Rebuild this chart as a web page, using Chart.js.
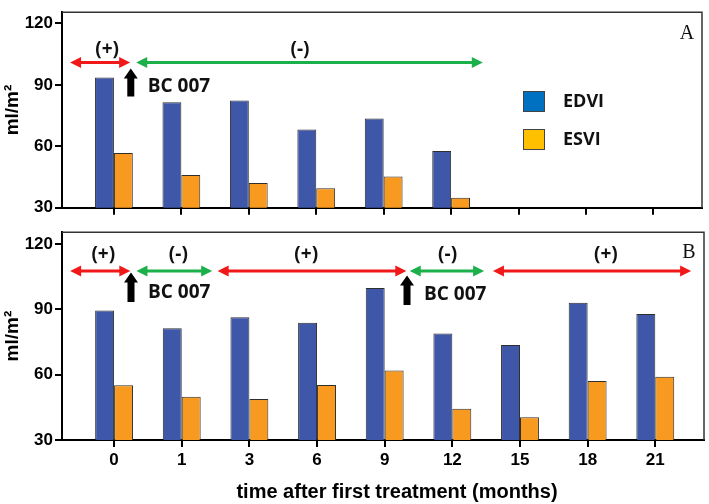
<!DOCTYPE html>
<html>
<head>
<meta charset="utf-8">
<script src="https://cdn.jsdelivr.net/npm/chart.js@4.4.1/dist/chart.umd.min.js"></script>
<style>
  body { margin: 0; background: #fff; width: 709px; height: 504px; overflow: hidden; }
  .panel { position: absolute; left: 0; width: 709px; }
  #panelA { top: 0; height: 220px; }
  #panelB { top: 220px; height: 284px; }
</style>
</head>
<body>
<div class="panel" id="panelA"><canvas id="chartA" width="709" height="220"></canvas></div>
<div class="panel" id="panelB"><canvas id="chartB" width="709" height="284"></canvas></div>
<script>
// months after first treatment
const months = ['0', '1', '3', '6', '9', '12', '15', '18', '21'];

// panel A
const edviA = [93.6, 81.5, 82.4, 68.2, 73.6, 57.7, null, null, null];
const esviA = [56.8, 46.0, 42.1, 39.5, 45.3, 34.9, null, null, null];

// panel B
const edviB = [89.5, 81.3, 86.4, 83.8, 99.8, 78.9, 73.6, 93.0, 87.9];
const esviB = [55.1, 49.8, 48.8, 55.3, 61.9, 44.3, 40.5, 57.1, 59.0];

const yTicks = [30, 60, 90, 120];
const seriesNames = ['EDVI', 'ESVI'];
const barColors = ['#3f57a8', '#f89a1f'];
const legendColors = ['#0070c0', '#ffc000'];

// treatment phases: [from, to, colour, label, labelX]  (x in category index units)
const phasesA = [
  [-0.65, 0.24, '#f01818', '(+)', -0.1],
  [0.33, 5.47, '#1bb04a', '(-)', 2.76]
];
const phasesB = [
  [-0.65, 0.24, '#f01818', '(+)', -0.16],
  [0.33, 1.45, '#1bb04a', '(-)', 0.95],
  [1.53, 4.32, '#f01818', '(+)', 2.84],
  [4.37, 5.47, '#1bb04a', '(-)', 4.93],
  [5.6, 8.53, '#f01818', '(+)', 7.27]
];
// BC 007 doses: [x, arrowTop, arrowBottom, textY]
const dosesA = [[0.25, 98, 84.3, 89.4]];
const dosesB = [[0.25, 106.9, 93.3, 97.8], [4.33, 105.5, 92, 96.9]];

const tickFont = { family: 'Liberation Sans', size: 17, weight: 'bold' };
const noteFont = 'bold 19px "Open Sans"';

function doubleArrow(ctx, x1, x2, y, color) {
  const h = 11, w = 5.5;
  ctx.strokeStyle = color;
  ctx.fillStyle = color;
  ctx.lineWidth = 3;
  ctx.beginPath();
  ctx.moveTo(x1 + h - 1, y);
  ctx.lineTo(x2 - h + 1, y);
  ctx.stroke();
  ctx.beginPath();
  ctx.moveTo(x1, y); ctx.lineTo(x1 + h, y - w); ctx.lineTo(x1 + h, y + w); ctx.closePath();
  ctx.fill();
  ctx.beginPath();
  ctx.moveTo(x2, y); ctx.lineTo(x2 - h, y - w); ctx.lineTo(x2 - h, y + w); ctx.closePath();
  ctx.fill();
}

function upArrow(ctx, x, yTop, yBottom) {
  ctx.fillStyle = '#000';
  ctx.beginPath();
  ctx.moveTo(x, yTop);
  ctx.lineTo(x + 7, yTop + 10);
  ctx.lineTo(x + 3.5, yTop + 10);
  ctx.lineTo(x + 3.5, yBottom);
  ctx.lineTo(x - 3.5, yBottom);
  ctx.lineTo(x - 3.5, yTop + 10);
  ctx.lineTo(x - 7, yTop + 10);
  ctx.closePath();
  ctx.fill();
}

const notes = {
  id: 'notes',
  afterDraw(chart, args, o) {
    const ctx = chart.ctx;
    const xs = chart.scales.x, ys = chart.scales.y;
    const a = chart.chartArea;
    ctx.save();
    // frame top/right
    ctx.strokeStyle = '#333';
    ctx.lineWidth = 1.5;
    ctx.beginPath();
    ctx.moveTo(a.left, a.top);
    ctx.lineTo(a.right, a.top);
    ctx.lineTo(a.right, a.bottom);
    ctx.stroke();

    ctx.font = noteFont;
    ctx.textBaseline = 'middle';
    o.phases.forEach(p => {
      const y = ys.getPixelForValue(o.arrowY);
      doubleArrow(ctx, xs.getPixelForValue(p[0]), xs.getPixelForValue(p[1]), y, p[2]);
      ctx.fillStyle = '#111';
      ctx.textAlign = 'center';
      ctx.fillText(p[3], xs.getPixelForValue(p[4]), ys.getPixelForValue(o.labelY));
    });
    o.doses.forEach(d => {
      const x = xs.getPixelForValue(d[0]);
      upArrow(ctx, x, ys.getPixelForValue(d[1]), ys.getPixelForValue(d[2]));
      ctx.fillStyle = '#111';
      ctx.textAlign = 'left';
      ctx.fillText('BC 007', x + 17, ys.getPixelForValue(d[3]));
    });

    // panel letter
    ctx.font = '20px "Liberation Serif"';
    ctx.textAlign = 'center';
    ctx.fillStyle = '#111';
    ctx.fillText(o.letter, a.right - 15, a.top + o.letterDy);

    if (o.legend) {
      seriesNames.forEach((name, i) => {
        const y = 91 + i * 38;
        ctx.fillStyle = legendColors[i];
        ctx.fillRect(523, y, 22, 21);
        ctx.strokeStyle = '#444';
        ctx.lineWidth = 1;
        ctx.strokeRect(523.5, y + 0.5, 21, 20);
        ctx.fillStyle = '#111';
        ctx.font = 'bold 18px "Open Sans"';
        ctx.textAlign = 'left';
        ctx.fillText(name, 563, y + 11);
      });
    }
    if (o.xTitle) {
      ctx.font = 'bold 20px "Liberation Sans"';
      ctx.textAlign = 'center';
      ctx.fillStyle = '#000';
      ctx.fillText(o.xTitle, 397, 272);
    }
    ctx.restore();
  }
};

function makePanel(id, edvi, esvi, cfg) {
  const pts = arr => arr.map((v, i) => ({ x: i, y: v }));
  return new Chart(document.getElementById(id), {
    type: 'bar',
    data: {
      datasets: [
        { label: seriesNames[0], data: pts(edvi), backgroundColor: barColors[0] },
        { label: seriesNames[1], data: pts(esvi), backgroundColor: barColors[1] }
      ]
    },
    options: {
      responsive: false,
      animation: false,
      devicePixelRatio: 1,
      layout: { padding: cfg.padding },
      datasets: {
        bar: { borderColor: '#2e2e2e', borderWidth: 1, categoryPercentage: 0.56, barPercentage: 1 }
      },
      scales: {
        x: {
          type: 'linear',
          min: -0.77,
          max: 8.72,
          offset: false,
          grid: { offset: false, drawOnChartArea: false, drawTicks: true, tickLength: 7, color: '#000', lineWidth: 2 },
          border: { color: '#000', width: 2 },
          afterBuildTicks: s => { s.ticks = months.map((m, i) => ({ value: i })); },
          afterFit: s => { s.height = cfg.xHeight; },
          ticks: {
            display: cfg.xLabels,
            color: '#000',
            font: tickFont,
            padding: 3,
            maxRotation: 0,
            autoSkip: false,
            callback: v => months[v]
          }
        },
        y: {
          min: 30,
          max: cfg.yMax,
          grid: { drawOnChartArea: false, drawTicks: true, tickLength: 7, color: '#000', lineWidth: 2 },
          border: { color: '#000', width: 2 },
          afterBuildTicks: s => { s.ticks = yTicks.map(v => ({ value: v })); },
          afterFit: s => { s.width = 62; },
          ticks: { color: '#000', font: tickFont, padding: 2 },
          title: {
            display: true,
            text: 'ml/m²',
            color: '#000',
            font: { family: 'Liberation Sans', size: 19, weight: 'bold' },
            padding: { top: 1, bottom: 0 }
          }
        }
      },
      plugins: {
        legend: { display: false },
        tooltip: { enabled: false },
        notes: cfg.notes
      }
    },
    plugins: [notes]
  });
}

makePanel('chartA', edviA, esviA, {
  padding: { top: 3, right: 7, left: 0, bottom: 0 },
  xHeight: 8,
  xLabels: false,
  yMax: 125.5,
  notes: { phases: phasesA, doses: dosesA, arrowY: 100.9, labelY: 107.2, letter: 'A', letterDy: 22, legend: true }
});

makePanel('chartB', edviB, esviB, {
  padding: { top: 9, right: 5, left: 0, bottom: 0 },
  xHeight: 64,
  xLabels: true,
  yMax: 125.4,
  notes: { phases: phasesB, doses: dosesB, arrowY: 107.6, labelY: 115, letter: 'B', letterDy: 21, legend: false,
           xTitle: 'time after first treatment (months)' }
});
</script>
</body>
</html>
